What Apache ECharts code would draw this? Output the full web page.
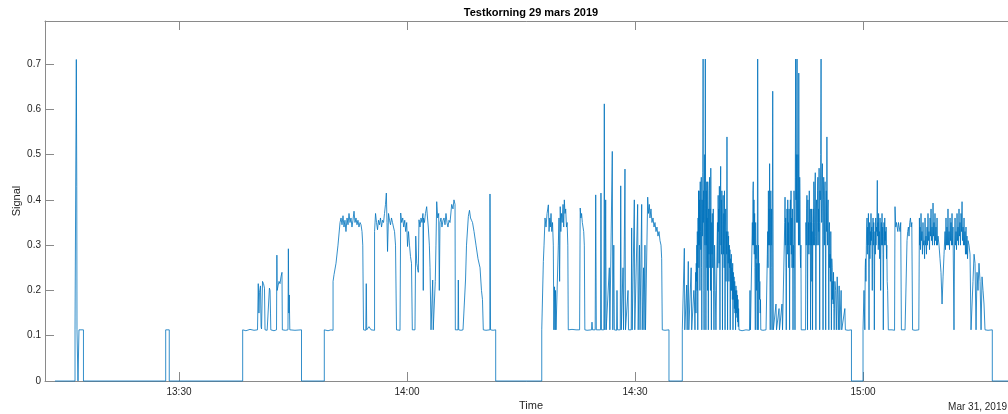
<!DOCTYPE html>
<html>
<head>
<meta charset="utf-8">
<script src="https://cdn.jsdelivr.net/npm/echarts@6/dist/echarts.min.js"></script>
<style>
html,body{margin:0;padding:0;background:#fff;}
#chart{width:1008px;height:414px;}
</style>
</head>
<body>
<div id="chart"></div>
<script>
// Time in minutes after 13:00, signal value
const xTickValues = [30, 60, 90, 120];
const xTickLabels = ['13:30', '14:00', '14:30', '15:00'];
const yTickValues = [0, 0.1, 0.2, 0.3, 0.4, 0.5, 0.6, 0.7];
const yTickLabels = ['0', '0.1', '0.2', '0.3', '0.4', '0.5', '0.6', '0.7'];

const segA = [[13.68,0],[16.32,0],[16.32,0.113],[16.44,0.112],[16.49,0.71],[16.53,0.71],[16.55,0.43],[16.58,0.113],[16.71,0.113],[16.71,0],[16.84,0],[16.84,0.113],[17.1,0.112],[17.43,0.113],[17.43,0]];
const segA2 = [[28.25,0],[28.25,0.113],[28.5,0.111],[28.72,0.113],[28.72,0]];
const segB = [[38.38,0],[38.38,0.113],[38.81,0.111],[39.34,0.114],[39.87,0.112],[40.33,0.113],[40.43,0.215],[40.52,0.15],[40.59,0.195],[40.72,0.21],[40.8,0.12],[40.86,0.115],[40.99,0.22],[41.12,0.215],[41.25,0.205],[41.32,0.113],[41.6,0.112],[41.84,0.113],[41.9,0.205],[41.98,0.2],[42.04,0.15],[42.08,0.113],[42.5,0.111],[42.83,0.113],[42.88,0.278],[42.92,0.2],[43.03,0.21],[43.16,0.22],[43.29,0.215],[43.42,0.23],[43.55,0.24],[43.6,0.113],[44.0,0.112],[44.34,0.113],[44.39,0.292],[44.45,0.15],[44.51,0.19],[44.58,0.113],[45.26,0.112],[46.12,0.113],[46.12,0]];
const segC = [[49.12,0],[49.12,0.113],[49.61,0.111],[50.0,0.113],[50.27,0.112],[50.27,0.22],[50.40,0.235],[50.66,0.26],[50.92,0.3],[51.19,0.35],[51.32,0.36],[51.45,0.345],[51.58,0.365],[51.71,0.34],[51.84,0.355],[51.97,0.33],[52.11,0.36],[52.24,0.345],[52.37,0.37],[52.50,0.35],[52.63,0.36],[52.76,0.34],[52.89,0.355],[53.03,0.375],[53.16,0.35],[53.29,0.36],[53.42,0.345],[53.55,0.355],[53.68,0.34],[53.82,0.35],[53.95,0.345],[54.08,0.33],[54.18,0.3],[54.28,0.113],[54.58,0.112],[54.64,0.215],[54.70,0.113],[55.00,0.12],[55.27,0.113],[55.73,0.112],[55.73,0.33],[55.86,0.37],[55.99,0.35],[56.12,0.334],[56.25,0.355],[56.38,0.345],[56.51,0.36],[56.65,0.34],[56.78,0.355],[56.91,0.35],[57.04,0.37],[57.17,0.39],[57.28,0.415],[57.37,0.35],[57.44,0.286],[57.57,0.37],[57.70,0.355],[57.83,0.345],[57.96,0.36],[58.09,0.35],[58.22,0.34],[58.36,0.33],[58.49,0.3],[58.62,0.113]];
const segD = [[59.08,0.112],[59.17,0.371],[59.30,0.35],[59.44,0.36],[59.57,0.34],[59.70,0.355],[59.83,0.33],[59.96,0.35],[60.07,0.297],[60.20,0.33],[60.33,0.3],[60.46,0.275],[60.59,0.26],[60.70,0.113],[60.92,0.112],[61.05,0.113],[61.15,0.32],[61.28,0.26],[61.38,0.25],[61.49,0.24],[61.58,0.356],[61.71,0.34],[61.84,0.36],[61.97,0.35],[62.10,0.37],[62.14,0.2],[62.18,0.36],[62.30,0.35],[62.43,0.37],[62.59,0.385],[62.70,0.36],[62.80,0.34],[62.94,0.3],[63.03,0.25],[63.16,0.113],[63.32,0.113],[63.38,0.223],[63.45,0.113],[63.66,0.113],[63.72,0.22],[63.81,0.3],[63.91,0.396],[64.04,0.36],[64.17,0.37],[64.25,0.2],[64.34,0.35],[64.47,0.36],[64.60,0.34],[64.74,0.355],[64.87,0.36],[65.00,0.345],[65.13,0.37],[65.26,0.35],[65.39,0.34],[65.53,0.355],[65.66,0.35],[65.88,0.39],[66.05,0.38],[66.18,0.4],[66.32,0.39],[66.36,0.113],[66.58,0.112],[66.71,0.113],[66.75,0.223],[66.80,0.113],[67.10,0.112],[67.37,0.113],[67.63,0.113],[67.70,0.223],[67.83,0.3],[68.07,0.363],[68.22,0.377],[68.36,0.36],[68.49,0.355],[68.62,0.35],[68.82,0.33],[69.08,0.3],[69.34,0.27],[69.61,0.25],[69.80,0.2],[69.93,0.18],[70.04,0.113],[70.39,0.112],[70.90,0.113],[70.92,0.413],[70.99,0.113],[71.32,0.112],[71.67,0.113],[71.67,0]];
const segE = [[77.73,0],[77.73,0.113],[77.84,0.113],[77.94,0.264],[78.03,0.3],[78.16,0.36],[78.29,0.34],[78.43,0.37],[78.60,0.389],[78.69,0.33],[78.78,0.36],[78.86,0.34],[78.95,0.37],[79.05,0.33],[79.15,0.35],[79.25,0.3],[79.32,0.113],[79.41,0.208],[79.48,0.113],[79.54,0.2],[79.61,0.113],[79.80,0.112],[79.91,0.3],[80.00,0.36],[80.08,0.22],[80.16,0.385],[80.24,0.33],[80.33,0.37],[80.42,0.35],[80.53,0.39],[80.62,0.34],[80.70,0.4],[80.79,0.37],[80.88,0.38],[80.98,0.34],[81.07,0.35],[81.16,0.3],[81.22,0.113],[81.45,0.111],[81.71,0.114],[81.97,0.112],[82.24,0.113],[82.50,0.111],[82.71,0.113],[82.79,0.382],[82.88,0.36],[82.97,0.37],[83.07,0.35],[83.16,0.34],[83.25,0.33],[83.33,0.3],[83.40,0.113],[83.69,0.112],[83.95,0.113],[84.28,0.113],[84.34,0.13],[84.41,0.113],[84.76,0.113],[84.83,0.411],[84.91,0.113],[85.13,0.112],[85.46,0.113],[85.52,0.415],[85.59,0.113],[85.90,0.113],[85.96,0.612],[86.03,0.113],[86.10,0.113],[86.14,0.4],[86.21,0.113],[86.45,0.112],[86.62,0.25],[86.69,0.113],[86.95,0.113],[87.01,0.507],[87.08,0.113],[87.21,0.3],[87.28,0.113],[87.57,0.112],[87.63,0.2],[87.70,0.113],[88.06,0.113],[88.12,0.431],[88.19,0.113],[88.42,0.25],[88.49,0.113],[88.63,0.113],[88.68,0.468],[88.75,0.113],[89.08,0.2],[89.15,0.113],[89.50,0.113],[89.56,0.338],[89.63,0.113],[89.84,0.113],[89.91,0.4],[89.97,0.113],[90.13,0.112],[90.35,0.39],[90.42,0.113],[90.59,0.3],[90.66,0.113],[90.81,0.113],[90.88,0.39],[90.95,0.113],[91.12,0.25],[91.18,0.113],[91.31,0.3],[91.38,0.113],[91.60,0.113],[91.67,0.406],[91.77,0.37],[91.88,0.39],[91.97,0.36],[92.10,0.38],[92.23,0.35],[92.37,0.36],[92.50,0.34],[92.63,0.35],[92.76,0.33],[92.89,0.34],[93.02,0.32],[93.16,0.33],[93.29,0.31],[93.42,0.3],[93.51,0.27],[93.59,0.113],[93.94,0.112],[94.47,0.113],[94.47,0]];
const segF1 = [[96.22,0],[96.22,0.113],[96.38,0.112],[96.49,0.293],[96.55,0.113],[96.73,0.113],[96.80,0.212],[96.86,0.113],[96.97,0.112],[97.01,0.264],[97.08,0.113],[97.30,0.113],[97.39,0.25],[97.46,0.113],[97.63,0.112],[97.74,0.2],[97.83,0.17],[97.89,0.113],[97.93,0.2],[97.98,0.24],[98.02,0.15],[98.06,0.26],[98.09,0.22],[98.13,0.3],[98.17,0.2],[98.20,0.33],[98.23,0.25],[98.26,0.113],[98.30,0.36],[98.33,0.3],[98.37,0.42],[98.40,0.25],[98.42,0.42],[98.46,0.3],[98.50,0.4],[98.54,0.2],[98.58,0.44],[98.62,0.33],[98.66,0.29],[98.69,0.42],[98.72,0.45],[98.76,0.25],[98.79,0.113],[98.83,0.4],[98.87,0.32],[98.92,0.46],[98.96,0.711],[98.99,0.35],[99.03,0.42],[99.06,0.2],[99.09,0.113],[99.13,0.4],[99.17,0.5],[99.21,0.3],[99.25,0.711],[99.29,0.38],[99.33,0.113],[99.37,0.42],[99.40,0.3],[99.44,0.44],[99.47,0.25],[99.50,0.36],[99.54,0.2],[99.57,0.44],[99.61,0.3],[99.65,0.113],[99.69,0.38],[99.73,0.28],[99.77,0.42],[99.81,0.45],[99.85,0.25],[99.89,0.38],[99.93,0.2],[99.97,0.47],[100.01,0.3],[100.05,0.113],[100.09,0.35],[100.13,0.28],[100.17,0.37],[100.22,0.25],[100.26,0.3],[100.30,0.38],[100.34,0.2],[100.39,0.113],[100.47,0.3],[100.56,0.2],[100.65,0.113]];
const segF2 = [[100.76,0.113],[100.80,0.3],[100.85,0.35],[100.89,0.25],[100.94,0.41],[100.98,0.33],[101.02,0.38],[101.06,0.26],[101.10,0.43],[101.14,0.3],[101.18,0.113],[101.22,0.38],[101.27,0.474],[101.31,0.3],[101.35,0.4],[101.39,0.28],[101.43,0.42],[101.47,0.3],[101.51,0.113],[101.55,0.36],[101.60,0.41],[101.64,0.28],[101.69,0.37],[101.73,0.25],[101.77,0.42],[101.81,0.3],[101.85,0.113],[101.89,0.34],[101.93,0.38],[101.97,0.22],[102.02,0.33],[102.06,0.28],[102.10,0.539],[102.14,0.3],[102.18,0.113],[102.22,0.33],[102.27,0.26],[102.31,0.32],[102.36,0.22],[102.41,0.3],[102.46,0.25],[102.49,0.29],[102.53,0.113],[102.58,0.27],[102.63,0.2],[102.67,0.28],[102.72,0.2],[102.76,0.25],[102.81,0.18],[102.85,0.26],[102.89,0.113],[102.94,0.24],[102.98,0.18],[103.03,0.23],[103.08,0.16],[103.12,0.22],[103.16,0.15],[103.20,0.2],[103.23,0.113],[103.28,0.21],[103.33,0.15],[103.38,0.2],[103.42,0.14],[103.47,0.19],[103.51,0.13],[103.55,0.18],[103.59,0.12],[103.63,0.16],[103.68,0.113],[104.08,0.111],[104.60,0.113],[105.06,0.112],[105.13,0.2],[105.19,0.113]];
const segF3 = [[105.39,0.113],[105.44,0.35],[105.48,0.3],[105.52,0.42],[105.56,0.44],[105.60,0.3],[105.65,0.4],[105.69,0.28],[105.74,0.37],[105.78,0.25],[105.83,0.113],[105.87,0.35],[105.92,0.27],[105.96,0.3],[106.00,0.2],[106.04,0.26],[106.08,0.113],[106.14,0.711],[106.21,0.113],[106.25,0.3],[106.29,0.22],[106.33,0.26],[106.38,0.18],[106.42,0.22],[106.47,0.15],[106.51,0.18],[106.55,0.113],[106.84,0.112],[107.24,0.113],[107.37,0.113],[107.41,0.28],[107.46,0.33],[107.50,0.25],[107.55,0.42],[107.59,0.3],[107.64,0.38],[107.67,0.3],[107.71,0.48],[107.75,0.35],[107.79,0.113],[107.83,0.36],[107.87,0.42],[107.91,0.3],[107.95,0.38],[107.99,0.25],[108.03,0.113],[108.12,0.64],[108.20,0.113],[108.42,0.112],[108.55,0.17],[108.62,0.113],[108.82,0.113],[108.95,0.16],[109.01,0.113],[109.21,0.112],[109.34,0.17],[109.41,0.113]];
const segF4 = [[109.63,0.113],[109.70,0.35],[109.74,0.406],[109.78,0.3],[109.82,0.36],[109.86,0.25],[109.90,0.113],[109.95,0.3],[110.00,0.38],[110.05,0.28],[110.10,0.4],[110.14,0.3],[110.17,0.35],[110.22,0.25],[110.27,0.38],[110.30,0.3],[110.34,0.113],[110.39,0.35],[110.44,0.4],[110.48,0.3],[110.53,0.42],[110.57,0.28],[110.62,0.36],[110.66,0.25],[110.71,0.38],[110.75,0.3],[110.79,0.113],[110.83,0.3],[110.87,0.25],[110.92,0.42],[110.96,0.38],[111.00,0.3],[111.05,0.113],[111.09,0.45],[111.14,0.711],[111.18,0.4],[111.22,0.5],[111.27,0.35],[111.32,0.711],[111.36,0.42],[111.40,0.35],[111.44,0.5],[111.47,0.45],[111.51,0.3],[111.55,0.68],[111.59,0.4],[111.63,0.3],[111.67,0.45],[111.71,0.4],[111.75,0.28],[111.79,0.25],[111.83,0.3],[111.87,0.113],[112.11,0.112]];
const segF5 = [[112.44,0.113],[112.49,0.35],[112.54,0.3],[112.58,0.38],[112.62,0.41],[112.66,0.3],[112.70,0.113],[112.75,0.4],[112.79,0.3],[112.83,0.35],[112.88,0.28],[112.93,0.42],[112.97,0.35],[113.01,0.3],[113.06,0.38],[113.10,0.113],[113.15,0.35],[113.19,0.3],[113.23,0.38],[113.27,0.22],[113.31,0.33],[113.36,0.113],[113.40,0.35],[113.45,0.38],[113.49,0.3],[113.53,0.44],[113.58,0.35],[113.63,0.3],[113.67,0.42],[113.72,0.46],[113.76,0.32],[113.80,0.113],[113.85,0.38],[113.89,0.4],[113.93,0.3],[113.98,0.35],[114.02,0.42],[114.06,0.45],[114.10,0.3],[114.14,0.38],[114.18,0.33],[114.22,0.47],[114.26,0.35],[114.30,0.113],[114.34,0.42],[114.39,0.4],[114.43,0.5],[114.48,0.711],[114.52,0.4],[114.56,0.35],[114.61,0.45],[114.66,0.48],[114.70,0.35],[114.74,0.113],[114.79,0.4],[114.83,0.45],[114.87,0.35],[114.92,0.3],[114.96,0.42],[115.01,0.44],[115.05,0.3],[115.09,0.113],[115.13,0.38],[115.17,0.42],[115.21,0.33],[115.25,0.539],[115.29,0.36],[115.33,0.3],[115.37,0.38],[115.41,0.4],[115.45,0.3],[115.50,0.113],[115.54,0.33],[115.58,0.35],[115.62,0.25],[115.67,0.28],[115.71,0.22],[115.76,0.33],[115.80,0.25],[115.84,0.113],[115.89,0.27],[115.94,0.25],[115.98,0.18],[116.03,0.22],[116.07,0.17],[116.12,0.24],[116.16,0.16],[116.20,0.113],[116.30,0.22],[116.40,0.2],[116.49,0.113],[116.60,0.23],[116.67,0.19],[116.75,0.113],[116.86,0.21],[116.94,0.113],[117.12,0.2],[117.20,0.113],[117.39,0.112],[117.61,0.16],[117.68,0.113],[118.05,0.112],[118.48,0.113],[118.48,0]];
const segG1 = [[120.00,0],[120.00,0.113],[120.13,0.2],[120.24,0.113],[120.29,0.25],[120.33,0.27],[120.38,0.22],[120.44,0.3],[120.48,0.34],[120.53,0.36],[120.57,0.28],[120.62,0.34],[120.66,0.3],[120.71,0.37],[120.75,0.3],[120.79,0.113],[120.83,0.32],[120.87,0.35],[120.91,0.27],[120.96,0.33],[121.00,0.3],[121.05,0.37],[121.10,0.31],[121.15,0.34],[121.18,0.28],[121.22,0.2],[121.27,0.33],[121.32,0.36],[121.36,0.3],[121.41,0.35],[121.45,0.28],[121.49,0.113],[121.54,0.3],[121.58,0.33],[121.62,0.28],[121.67,0.36],[121.71,0.3],[121.76,0.34],[121.82,0.33],[121.88,0.443],[121.92,0.32],[121.97,0.35],[122.01,0.29],[122.05,0.37],[122.10,0.3],[122.14,0.33],[122.19,0.27],[122.24,0.36],[122.28,0.3],[122.32,0.2],[122.37,0.33],[122.41,0.35],[122.46,0.3],[122.50,0.37],[122.55,0.3],[122.59,0.34],[122.63,0.28],[122.67,0.113],[122.72,0.32],[122.76,0.35],[122.81,0.3],[122.86,0.36],[122.90,0.31],[122.95,0.33],[123.00,0.3],[123.04,0.34],[123.09,0.27],[123.13,0.3],[123.18,0.22],[123.24,0.2],[123.33,0.113],[123.55,0.112],[123.82,0.113],[124.15,0.112],[124.21,0.385],[124.31,0.34],[124.40,0.35],[124.49,0.34],[124.58,0.33],[124.67,0.35],[124.76,0.34],[124.87,0.33],[124.96,0.35],[125.05,0.113],[125.26,0.112],[125.53,0.113],[125.72,0.113],[125.79,0.31],[125.88,0.33],[125.97,0.34],[126.05,0.32],[126.15,0.35],[126.24,0.36],[126.33,0.34],[126.42,0.35],[126.52,0.113],[126.85,0.112]];
const segG2 = [[127.34,0.113],[127.42,0.36],[127.46,0.3],[127.50,0.34],[127.56,0.29],[127.63,0.37],[127.70,0.31],[127.76,0.33],[127.82,0.28],[127.89,0.35],[127.96,0.3],[128.03,0.31],[128.10,0.27],[128.16,0.36],[128.22,0.3],[128.29,0.32],[128.35,0.28],[128.42,0.34],[128.48,0.3],[128.55,0.37],[128.61,0.31],[128.68,0.33],[128.75,0.29],[128.82,0.36],[128.88,0.32],[128.95,0.38],[129.01,0.31],[129.08,0.34],[129.14,0.3],[129.21,0.393],[129.27,0.32],[129.34,0.35],[129.40,0.3],[129.47,0.37],[129.53,0.31],[129.60,0.34],[129.67,0.3],[129.74,0.36],[129.80,0.3],[129.87,0.32],[130.00,0.3],[130.13,0.27],[130.26,0.24],[130.40,0.17],[130.53,0.23],[130.66,0.28],[130.79,0.33],[130.85,0.29],[130.92,0.36],[130.98,0.3],[131.05,0.34],[131.11,0.3],[131.18,0.38],[131.25,0.3],[131.32,0.33],[131.38,0.29],[131.45,0.36],[131.51,0.31],[131.58,0.35],[131.64,0.3],[131.71,0.37],[131.77,0.3],[131.84,0.34],[131.97,0.113],[132.04,0.3],[132.11,0.36],[132.17,0.3],[132.24,0.33],[132.30,0.29],[132.37,0.37],[132.43,0.31],[132.50,0.34],[132.56,0.3],[132.63,0.38],[132.69,0.32],[132.76,0.35],[132.82,0.3],[132.89,0.37],[132.96,0.33],[133.03,0.396],[133.09,0.31],[133.16,0.34],[133.22,0.3],[133.29,0.36],[133.35,0.3],[133.42,0.33],[133.48,0.28],[133.55,0.34],[133.61,0.28],[133.68,0.32],[133.75,0.27],[133.82,0.31],[133.95,0.3],[134.08,0.28],[134.21,0.113],[134.34,0.112],[134.47,0.22],[134.61,0.28],[134.74,0.26],[134.87,0.113],[135.00,0.24],[135.13,0.2],[135.26,0.26],[135.40,0.22],[135.53,0.113],[135.66,0.23],[135.79,0.2],[135.92,0.17],[136.05,0.113],[136.45,0.112],[137.01,0.113],[137.01,0],[140.26,0]];

const signalData = [].concat(segA, segA2, segB, segC, segD, segE, segF1, segF2, segF3, segF4, segF5, segG1, segG2);

const X_MIN = 12.37, X_MAX = 140.26, Y_MIN = 0, Y_MAX = 0.795;
const AXIS_COLOR = '#8a8a8a';
const TEXT_COLOR = '#262626';
const FONT = 'Liberation Sans, Arial, Helvetica, sans-serif';

function lookup(vals, labels, v) {
  for (let i = 0; i < vals.length; i++) if (Math.abs(vals[i] - v) < 1e-6) return labels[i];
  return '';
}

const chart = echarts.init(document.getElementById('chart'), null, {renderer: 'canvas'});
const boxAxisLine = {show: true, onZero: false, lineStyle: {color: AXIS_COLOR, width: 1}};
chart.setOption({
  animation: false,
  backgroundColor: '#ffffff',
  grid: {left: 45, top: 21, width: 972, height: 360, containLabel: false, outerBoundsMode: 'none'},
  xAxis: [
    {type: 'value', position: 'bottom', min: X_MIN, max: X_MAX,
     axisLine: boxAxisLine,
     axisTick: {show: true, inside: true, length: 9, customValues: xTickValues, lineStyle: {color: AXIS_COLOR}},
     axisLabel: {show: true, customValues: xTickValues, margin: 6, color: TEXT_COLOR, fontSize: 10, fontFamily: FONT,
       formatter: v => lookup(xTickValues, xTickLabels, v)},
     splitLine: {show: false}},
    {type: 'value', position: 'top', min: X_MIN, max: X_MAX,
     axisLine: boxAxisLine,
     axisTick: {show: true, inside: true, length: 9, customValues: xTickValues, lineStyle: {color: AXIS_COLOR}},
     axisLabel: {show: false}, splitLine: {show: false}}
  ],
  yAxis: [
    {type: 'value', position: 'left', min: Y_MIN, max: Y_MAX,
     axisLine: boxAxisLine,
     axisTick: {show: true, inside: true, length: 9, customValues: yTickValues, lineStyle: {color: AXIS_COLOR}},
     axisLabel: {show: true, customValues: yTickValues, margin: 4, color: TEXT_COLOR, fontSize: 10, fontFamily: FONT,
       formatter: v => lookup(yTickValues, yTickLabels, v)},
     splitLine: {show: false}},
    {type: 'value', position: 'right', min: Y_MIN, max: Y_MAX,
     axisLine: boxAxisLine,
     axisTick: {show: true, inside: true, length: 9, customValues: yTickValues, lineStyle: {color: AXIS_COLOR}},
     axisLabel: {show: false}, splitLine: {show: false}}
  ],
  series: [{
    type: 'line', xAxisIndex: 0, yAxisIndex: 0,
    data: signalData, showSymbol: false, symbol: 'none', clip: false, sampling: null,
    lineStyle: {color: '#0072BD', width: 0.8}, z: 5
  }],
  graphic: [
    {type: 'text', x: 531, y: 13, z: 10, style: {text: 'Testkorning 29 mars 2019', font: 'bold 11px ' + FONT, fill: '#000', align: 'center', verticalAlign: 'middle'}},
    {type: 'text', x: 531, y: 406, z: 10, style: {text: 'Time', font: '11px ' + FONT, fill: TEXT_COLOR, align: 'center', verticalAlign: 'middle'}},
    {type: 'text', x: 1007, y: 407, z: 10, style: {text: 'Mar 31, 2019', font: '10px ' + FONT, fill: TEXT_COLOR, align: 'right', verticalAlign: 'middle'}},
    {type: 'text', x: 17, y: 201, rotation: Math.PI / 2, z: 10, style: {text: 'Signal', font: '11px ' + FONT, fill: TEXT_COLOR, align: 'center', verticalAlign: 'middle'}}
  ]
});
</script>
</body>
</html>
